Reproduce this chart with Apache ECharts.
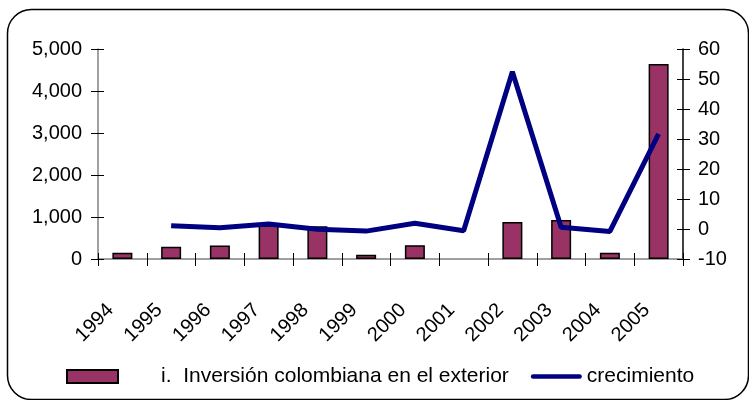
<!DOCTYPE html>
<html>
<head>
<meta charset="utf-8">
<script src="https://cdn.jsdelivr.net/npm/echarts@6/dist/echarts.min.js"></script>
<style>html,body{margin:0;padding:0;background:#fff}#c{width:749px;height:400px}</style>
</head>
<body>
<div id="c"></div>
<script>
var years = ['1994','1995','1996','1997','1998','1999','2000','2001','2002','2003','2004','2005'];
var inversion = [150, 290, 320, 800, 780, 100, 330, null, 880, 930, 150, 4640];
var crecimiento = [null, 1.1, 0.4, 1.7, -0.1, -0.7, 1.9, -0.6, 52.4, 0.6, -0.8, 31.7];
var leftTicks = [0, 5000, 1000];
var rightTicks = [-10, 60, 10];
var barName = 'i.  Inversión colombiana en el exterior';
var lineName = 'crecimiento';

var FONT = "'Liberation Sans', Arial, sans-serif";
var chart = echarts.init(document.getElementById('c'), null, {renderer: 'canvas'});
var gray = '#808080';
var labelStyle = {color: '#000', fontSize: 20, fontFamily: FONT};
chart.setOption({
  animation: false,
  textStyle: {fontFamily: FONT},
  grid: {left: 98, right: 66, top: 49, bottom: 141},
  graphic: [{
    type: 'rect', silent: true, z: 100,
    shape: {x: 7.5, y: 9.5, width: 741, height: 390, r: 24},
    style: {fill: 'none', stroke: '#000', lineWidth: 1.5}
  }],
  legend: {
    left: 66, top: 366, padding: 0,
    itemWidth: 51, itemHeight: 13, itemGap: 22,
    textStyle: {fontSize: 21, color: '#000', fontFamily: FONT, rich: {a: {fontSize: 21, fontFamily: FONT, padding: [0, 0, 0, 38]}}},
    formatter: function (n) { return n === barName ? '{a|' + n + '}' : n; },
    data: [
      {name: barName, icon: 'rect'},
      {name: lineName, icon: 'path://M2.5,0 L53.5,0 A2.5,2.5 0 0 1 53.5,5 L2.5,5 A2.5,2.5 0 0 1 2.5,0 Z', itemStyle: {color: '#000080', borderWidth: 0}}
    ]
  },
  xAxis: [{
    type: 'category', data: years, boundaryGap: true,
    axisLine: {onZero: false, lineStyle: {color: gray, width: 1.5}},
    axisTick: {show: true, length: 7, lineStyle: {color: '#000'}},
    axisLabel: Object.assign({rotate: 45, margin: 36, padding: [0, 17, 0, 0], interval: 0}, labelStyle)
  }, {
    type: 'category', data: years, boundaryGap: true, position: 'bottom',
    axisLine: {show: false, onZero: false},
    axisTick: {show: true, inside: true, length: 6, lineStyle: {color: '#000'}},
    axisLabel: {show: false}
  }],
  yAxis: [{
    type: 'value', min: leftTicks[0], max: leftTicks[1], interval: leftTicks[2], position: 'left',
    splitLine: {show: false},
    axisLine: {show: true, lineStyle: {color: gray, width: 1.5}},
    axisTick: {show: true, length: 7, lineStyle: {color: '#000'}},
    axisLabel: Object.assign({margin: 16, formatter: function (v) { return v.toLocaleString('en-US'); }}, labelStyle)
  }, {
    type: 'value', min: rightTicks[0], max: rightTicks[1], interval: rightTicks[2], position: 'right',
    splitLine: {show: false},
    axisLine: {show: true, lineStyle: {color: '#000', width: 1.5}},
    axisTick: {show: true, length: 7, lineStyle: {color: '#000'}},
    axisLabel: Object.assign({margin: 15}, labelStyle)
  }, {
    type: 'value', min: leftTicks[0], max: leftTicks[1], interval: leftTicks[2], position: 'left',
    splitLine: {show: false}, axisLine: {show: false},
    axisTick: {show: true, inside: true, length: 6, lineStyle: {color: '#000'}},
    axisLabel: {show: false}
  }, {
    type: 'value', min: rightTicks[0], max: rightTicks[1], interval: rightTicks[2], position: 'right',
    splitLine: {show: false}, axisLine: {show: false},
    axisTick: {show: true, inside: true, length: 6, lineStyle: {color: '#000'}},
    axisLabel: {show: false}
  }],
  series: [{
    name: barName, type: 'bar', data: inversion, barWidth: 20, yAxisIndex: 0,
    itemStyle: {color: '#993366', borderColor: '#000', borderWidth: 1.5}
  }, {
    name: lineName, type: 'line', data: crecimiento, yAxisIndex: 1,
    symbol: 'none', smooth: false, z: 5,
    lineStyle: {color: '#000080', width: 5},
    itemStyle: {color: '#000080'}
  }]
});
</script>
</body>
</html>
